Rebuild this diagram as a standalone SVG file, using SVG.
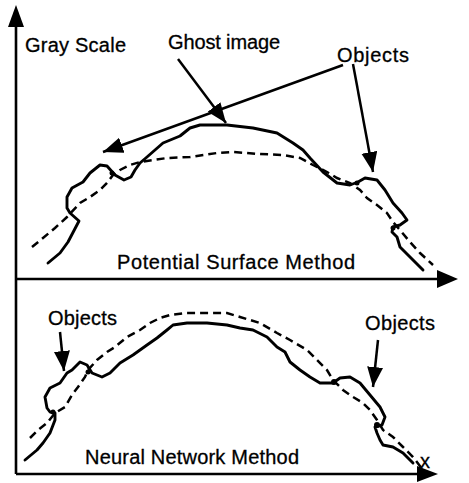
<svg xmlns="http://www.w3.org/2000/svg" width="469" height="483" viewBox="0 0 469 483">
<style>
text{font-family:"Liberation Sans",Arial,sans-serif;font-size:20px;fill:#000;stroke:#000;stroke-width:0.3}
.ax{stroke:#000;stroke-width:2.6;fill:none}
.sol{stroke:#000;stroke-width:2.9;fill:none;stroke-linejoin:round;stroke-linecap:round}
.dsh{stroke:#000;stroke-width:2.5;fill:none;stroke-dasharray:8 5}
.ptr{stroke:#000;stroke-width:2.5;fill:none}
</style>
<defs>
<marker id="ah" markerUnits="userSpaceOnUse" markerWidth="22" markerHeight="18" refX="20" refY="8" orient="auto">
<path d="M0,0 L20,8 L0,16 Z" fill="#000"/>
</marker>
</defs>
<rect width="469" height="483" fill="#fff"/>
<g id="axes">
<line class="ax" x1="16" y1="474" x2="16" y2="24"/>
<path d="M16,5 L24,27 L8,27 Z" fill="#000"/>
<line class="ax" x1="16" y1="279" x2="440" y2="279"/>
<path d="M458,279 L437,270 L437,288 Z" fill="#000"/>
<line class="ax" x1="16" y1="474" x2="419" y2="474"/>
<path d="M438,474 L417,466 L417,482 Z" fill="#000"/>
</g>
<g id="labels">
<text x="25" y="52" textLength="101" lengthAdjust="spacing">Gray Scale</text>
<text x="168" y="49" textLength="112" lengthAdjust="spacing">Ghost image</text>
<text x="337" y="62" textLength="72" lengthAdjust="spacing">Objects</text>
<text x="117" y="269" textLength="238" lengthAdjust="spacing">Potential Surface Method</text>
<text x="48" y="325" textLength="69" lengthAdjust="spacing">Objects</text>
<text x="365" y="330" textLength="70" lengthAdjust="spacing">Objects</text>
<text x="85" y="464" textLength="214" lengthAdjust="spacing">Neural Network Method</text>
<text x="420" y="468">x</text>
</g>
<g id="top-panel">
<polyline class="sol" points="48,263 60,253 68,242 79,221 70,213 67,208 67,197 72,188 83,182 90,173 100,165 107,166 115,175 124,180 131,177 135,170 140,163 147,157 163,143 180,136 190,128 200,125 227,125 253,128 277,133 293,143 303,150 310,158 323,172 337,183 350,185 358,182 365,178 377,180 385,190 393,203 402,213 407,220 400,225 393,227 392,232 397,237 400,247 410,257 423,270"/>
<polyline class="dsh" points="32,247 43,238 55,228 67,217 80,203 90,197 100,190 107,183 113,175 120,170 130,165 140,162 167,158 190,157 217,153 233,152 260,154 283,155 300,158 313,165 327,172 337,178 350,183 360,190 367,198 377,205 387,213 393,222 400,230 410,242 420,253 433,265"/>
<circle cx="112" cy="173" r="2.5"/>
<circle cx="357" cy="183" r="2.5"/>
<circle cx="393" cy="228" r="2.5"/>
</g>
<g id="bottom-panel">
<polyline class="sol" points="25,460 37,450 43,443 50,433 55,420 55,413 50,412 47,408 45,397 50,388 60,383 67,373 72,370 80,362 87,365 92,373 102,377 110,373 120,363 133,355 147,345 157,338 167,330 173,325 187,323 207,323 227,325 240,328 253,330 267,337 277,347 285,352 290,362 300,370 310,377 320,383 333,383 340,378 350,377 360,383 370,395 380,407 385,417 382,425 375,427 377,433 380,440 383,445 393,447 403,453 413,463"/>
<polyline class="dsh" points="30,438 38,430 47,423 55,413 65,407 72,395 78,387 85,377 88,370 97,360 107,352 115,347 127,337 140,330 150,323 160,318 170,315 187,313 207,313 227,313 240,317 260,323 277,333 290,340 307,350 317,360 327,370 333,380 343,390 353,397 363,403 370,410 377,420 383,430 393,437 403,447 413,457 423,470"/>
<circle cx="53" cy="412" r="2.5"/>
<circle cx="88" cy="372" r="2.5"/>
<circle cx="334" cy="382" r="3"/>
<circle cx="377" cy="425" r="3"/>
</g>
<g id="connectors">
<line class="ptr" x1="178" y1="59" x2="226" y2="123" marker-end="url(#ah)"/>
<line class="ptr" x1="343" y1="65" x2="103" y2="152" marker-end="url(#ah)"/>
<line class="ptr" x1="353" y1="64" x2="373" y2="172" marker-end="url(#ah)"/>
<line class="ptr" x1="60" y1="332" x2="64" y2="371" marker-end="url(#ah)"/>
<line class="ptr" x1="378" y1="340" x2="373" y2="387" marker-end="url(#ah)"/>
</g>
</svg>
